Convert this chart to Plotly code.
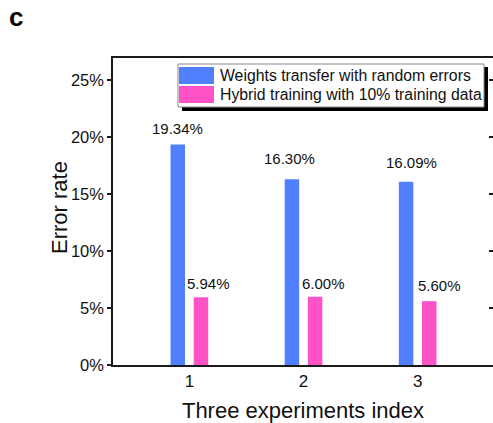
import plotly.graph_objects as go

# ---- data ----
CATEGORIES = ["1", "2", "3"]
X_POS = [1, 2, 3]
SERIES_NAMES = ["Weights transfer with random errors",
                "Hybrid training with 10% training data"]
WEIGHTS_TRANSFER = [19.34, 16.30, 16.09]
HYBRID_TRAINING = [5.94, 6.00, 5.60]
Y_TICKS = [0, 5, 10, 15, 20, 25]
Y_TICK_TEXT = [f"{v}%" for v in Y_TICKS]
X_TITLE = "Three experiments index"
Y_TITLE = "Error rate"

# ---- style ----
COLORS = ["#5080FF", "#FF52C6"]
FONT = "Arial, 'Liberation Sans', sans-serif"
INK = "#111111"
W, H = 493, 423
M_L, M_R, M_T, M_B = 113, 0, 58, 58
X_RANGE = [0.331, 3.66]
Y_RANGE = [0, 26.94]
BARGAP, BARGROUPGAP = 0.594, 0.375
# per-label pixel nudges (dx from bar centre, dy above bar top)
NUDGE = [
    [(-0.5, 16.5), (-2, 21), (5, 19.5)],
    [(7.5, 13.5), (8.5, 13.5), (10, 16)],
]

plot_w = W - M_L - M_R
plot_h = H - M_T - M_B
unit_px = plot_w / (X_RANGE[1] - X_RANGE[0])
slot_px = (1 - BARGAP) / 2 * unit_px  # width of one bar slot inside a group


def px(x):
    return (x - M_L) / plot_w


def py(y):
    return (H - M_B - y) / plot_h


fig = go.Figure()
for name, vals, col in zip(SERIES_NAMES, [WEIGHTS_TRANSFER, HYBRID_TRAINING], COLORS):
    fig.add_trace(go.Bar(x=X_POS, y=vals, name=name, marker_color=col,
                         marker_line_width=0, showlegend=False))

# invisible trace carrying the right-hand tick axis
fig.add_trace(go.Scatter(x=[None], y=[None], yaxis="y2", showlegend=False,
                         hoverinfo="skip"))

# value labels above each bar
annotations = []
for s, vals in enumerate([WEIGHTS_TRANSFER, HYBRID_TRAINING]):
    side = -0.5 if s == 0 else 0.5
    for i, v in enumerate(vals):
        dx, dy = NUDGE[s][i]
        annotations.append(dict(
            x=X_POS[i], y=v, xref="x", yref="y", text=f"{v:.2f}%",
            showarrow=False, xanchor="center", yanchor="middle",
            xshift=side * slot_px + dx, yshift=dy,
            font=dict(family=FONT, size=15, color=INK)))

# panel letter
annotations.append(dict(x=px(16), y=py(17), xref="paper", yref="paper",
                        text="<b>c</b>", showarrow=False, xanchor="center",
                        yanchor="middle", font=dict(family=FONT, size=26, color="#000")))

# y-axis title
annotations.append(dict(x=px(59), y=py(208), xref="paper", yref="paper",
                        text=Y_TITLE, textangle=-90, showarrow=False,
                        xanchor="center", yanchor="middle",
                        font=dict(family=FONT, size=22, color=INK)))

# legend (drawn by hand: box with drop shadow and wide swatches)
shapes = [
    dict(type="rect", xref="paper", yref="paper", x0=px(182), x1=px(488),
         y0=py(111), y1=py(67), fillcolor="#000", line=dict(width=0), layer="above"),
    dict(type="rect", xref="paper", yref="paper", x0=px(178), x1=px(484),
         y0=py(107), y1=py(64), fillcolor="#fff", line=dict(color="#8a8a8a", width=1),
         layer="above"),
]
for k, (name, col) in enumerate(zip(SERIES_NAMES, COLORS)):
    top = 67 + 19 * k
    shapes.append(dict(type="rect", xref="paper", yref="paper", x0=px(179), x1=px(214),
                       y0=py(top + 17), y1=py(top), fillcolor=col,
                       line=dict(width=0), layer="above"))
    annotations.append(dict(x=px(218), y=py(top + 8.5), xref="paper", yref="paper",
                            text=name, showarrow=False, xanchor="left", yanchor="middle",
                            font=dict(family=FONT, size=15.8, color=INK)))

fig.update_layout(
    width=W, height=H,
    margin=dict(l=M_L, r=M_R, t=M_T, b=M_B, pad=0),
    paper_bgcolor="white", plot_bgcolor="white",
    barmode="group", bargap=BARGAP, bargroupgap=BARGROUPGAP,
    font=dict(family=FONT, color=INK),
    xaxis=dict(range=X_RANGE, tickvals=X_POS, ticktext=CATEGORIES,
               ticks="", showline=True, mirror=True, linecolor="#1a1a1a",
               linewidth=1.5, showgrid=False, zeroline=False,
               tickfont=dict(size=17, family=FONT, color=INK),
               title=dict(text=X_TITLE, standoff=12,
                          font=dict(size=22, family=FONT, color=INK))),
    yaxis=dict(range=Y_RANGE, tickmode="array", tickvals=Y_TICKS, ticktext=Y_TICK_TEXT,
               ticks="outside", ticklen=4, tickwidth=1.5, tickcolor="#1a1a1a",
               showline=True, linecolor="#1a1a1a", linewidth=1.5,
               showgrid=False, zeroline=False,
               tickfont=dict(size=16.5, family=FONT, color=INK)),
    yaxis2=dict(range=Y_RANGE, tickvals=Y_TICKS, overlaying="y", side="right",
                ticks="inside", ticklen=4, tickwidth=1.5, tickcolor="#1a1a1a",
                showticklabels=False, showline=False, showgrid=False,
                zeroline=False),
    annotations=annotations,
    shapes=shapes,
)

fig.write_html("out.html")
